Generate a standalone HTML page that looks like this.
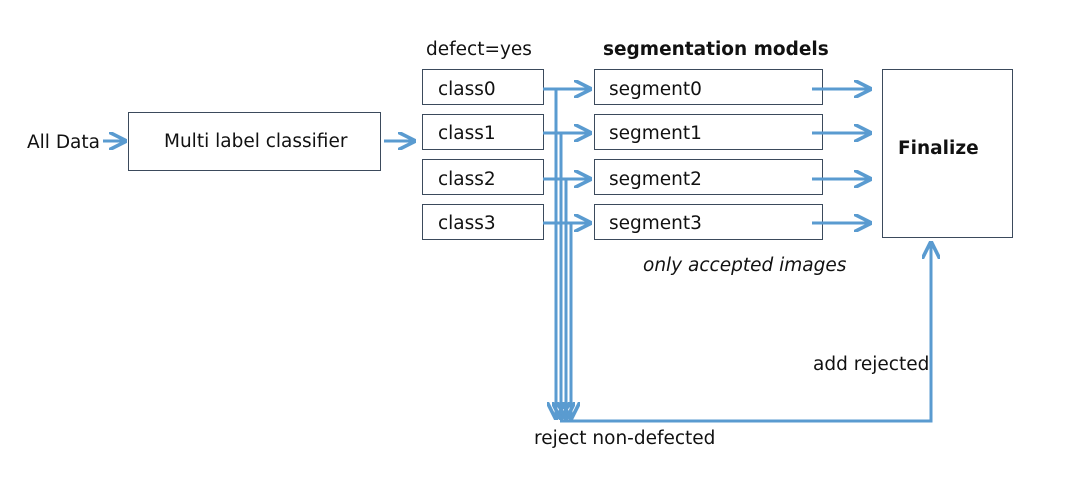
<!DOCTYPE html>
<html><head><style>
body{margin:0;background:#fff}
svg text{font-family:"DejaVu Sans","Liberation Sans",sans-serif;font-size:18.5px;fill:#111}
</style></head><body>
<svg width="1077" height="475" xmlns="http://www.w3.org/2000/svg">
<defs><marker id="a" viewBox="0 0 10 10" refX="9" refY="5" markerWidth="6" markerHeight="6" orient="auto-start-reverse" markerUnits="strokeWidth"><path d="M0,0 L10,5 L0,10" fill="none" stroke="#5a9bd0" stroke-width="2"/></marker></defs>
<g fill="none" stroke="#3b4a5c" stroke-width="1">
<rect x="128.5" y="112.5" width="252" height="58"/>
<rect x="422.5" y="69.5" width="121" height="35"/>
<rect x="422.5" y="114.5" width="121" height="35"/>
<rect x="422.5" y="159.5" width="121" height="35"/>
<rect x="422.5" y="204.5" width="121" height="35"/>
<rect x="594.5" y="69.5" width="228" height="35"/>
<rect x="594.5" y="114.5" width="228" height="35"/>
<rect x="594.5" y="159.5" width="228" height="35"/>
<rect x="594.5" y="204.5" width="228" height="35"/>
<rect x="882.5" y="69.5" width="130" height="168"/>
</g>
<g stroke="#5a9bd0" stroke-width="3" fill="none">
<line x1="103" y1="141" x2="125" y2="141" marker-end="url(#a)"/>
<line x1="384" y1="141" x2="414" y2="141" marker-end="url(#a)"/>
<line x1="543" y1="89" x2="590" y2="89" marker-end="url(#a)"/>
<line x1="543" y1="133" x2="590" y2="133" marker-end="url(#a)"/>
<line x1="543" y1="179" x2="590" y2="179" marker-end="url(#a)"/>
<line x1="543" y1="223" x2="590" y2="223" marker-end="url(#a)"/>
<line x1="812" y1="89" x2="870" y2="89" marker-end="url(#a)"/>
<line x1="812" y1="133" x2="870" y2="133" marker-end="url(#a)"/>
<line x1="812" y1="179" x2="870" y2="179" marker-end="url(#a)"/>
<line x1="812" y1="223" x2="870" y2="223" marker-end="url(#a)"/>
<line x1="556" y1="89" x2="556" y2="418" marker-end="url(#a)"/>
<line x1="561" y1="133" x2="561" y2="418" marker-end="url(#a)"/>
<line x1="566" y1="179" x2="566" y2="418" marker-end="url(#a)"/>
<line x1="571" y1="223" x2="571" y2="418" marker-end="url(#a)"/>
<polyline points="560,421 931,421 931,243" marker-end="url(#a)"/>
</g>
<text x="27" y="148">All Data</text>
<text x="164" y="147">Multi label classifier</text>
<text x="426" y="55">defect=yes</text>
<text x="603" y="55" font-weight="bold">segmentation models</text>
<text x="438" y="95">class0</text>
<text x="438" y="139">class1</text>
<text x="438" y="185">class2</text>
<text x="438" y="229">class3</text>
<text x="609" y="95">segment0</text>
<text x="609" y="139">segment1</text>
<text x="609" y="185">segment2</text>
<text x="609" y="229">segment3</text>
<text x="898" y="154" font-weight="bold">Finalize</text>
<text x="643" y="271" font-style="italic">only accepted images</text>
<text x="813" y="370">add rejected</text>
<text x="534" y="444">reject non-defected</text>
</svg>
</body></html>
